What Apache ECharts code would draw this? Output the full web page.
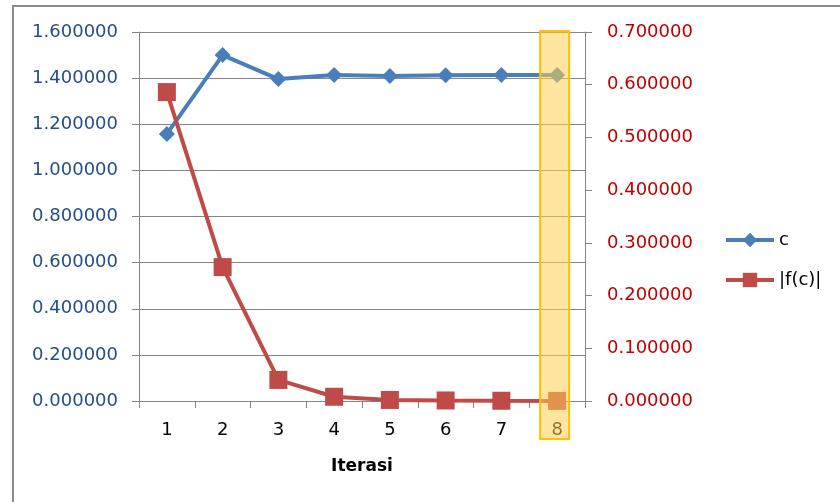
<!DOCTYPE html>
<html><head><meta charset="utf-8">
<script src="https://cdn.jsdelivr.net/npm/echarts@6/dist/echarts.min.js"></script>
<style>html,body{margin:0;padding:0;background:#fff}#c{width:840px;height:502px}</style>
</head><body><div id="c"></div>
<script>
const categories = ['1','2','3','4','5','6','7','8'];
const cValues = [1.158, 1.500, 1.396, 1.414, 1.409, 1.412, 1.414, 1.414];
const fcValues = [0.586, 0.254, 0.040, 0.008, 0.002, 0.001, 0.0005, 0.0002];
const leftTicks = {min: 0, max: 1.6, interval: 0.2};
const rightTicks = {min: 0, max: 0.7, interval: 0.1};

const chart = echarts.init(document.getElementById('c'), null, {renderer: 'canvas'});
const FONT = 'DejaVu Sans';
chart.setOption({
  animation: false,
  textStyle: {fontFamily: FONT},
  grid: {left: 139, right: 255, top: 32, bottom: 101, containLabel: false},
  legend: {
    orient: 'vertical', left: 719, top: 226, itemWidth: 48, itemHeight: 18, itemGap: 22,
    textStyle: {fontSize: 18, color: '#000', fontFamily: FONT},
    lineStyle: {width: 4},
    data: ['c', '|f(c)|']
  },
  xAxis: {
    type: 'category', data: categories, boundaryGap: true,
    name: 'Iterasi', nameLocation: 'middle', nameGap: 57,
    nameTextStyle: {fontSize: 17, fontWeight: 'bold', color: '#000', fontFamily: FONT},
    axisLine: {lineStyle: {color: '#868686', width: 1}},
    axisTick: {show: true, length: 7, lineStyle: {color: '#868686'}, alignWithLabel: false},
    axisLabel: {fontSize: 18, color: '#000', margin: 20, fontFamily: FONT},
    splitLine: {show: false}
  },
  yAxis: [{
    type: 'value', min: leftTicks.min, max: leftTicks.max, interval: leftTicks.interval,
    position: 'left',
    axisLine: {show: true, lineStyle: {color: '#868686', width: 1}},
    axisTick: {show: true, length: 7, lineStyle: {color: '#868686'}},
    axisLabel: {fontSize: 18, color: '#254E88', margin: 21, fontFamily: FONT,
      formatter: v => v.toFixed(6)},
    splitLine: {show: true, lineStyle: {color: '#868686', width: 1}}
  }, {
    type: 'value', min: rightTicks.min, max: rightTicks.max, interval: rightTicks.interval,
    position: 'right',
    axisLine: {show: true, lineStyle: {color: '#868686', width: 1}},
    axisTick: {show: true, length: 7, lineStyle: {color: '#868686'}},
    axisLabel: {fontSize: 18, color: '#C00000', margin: 22, fontFamily: FONT,
      formatter: v => v.toFixed(6)},
    splitLine: {show: false}
  }],
  series: [{
    name: 'c', type: 'line', yAxisIndex: 0, data: cValues,
    symbol: 'diamond', symbolSize: 16,
    lineStyle: {color: '#4A7EBB', width: 4},
    itemStyle: {color: '#4A7EBB'}
  }, {
    name: '|f(c)|', type: 'line', yAxisIndex: 1, data: fcValues,
    symbol: 'rect', symbolSize: 18,
    lineStyle: {color: '#BE4B48', width: 4},
    itemStyle: {color: '#BE4B48'}
  }]
});

const cx = chart.convertToPixel({xAxisIndex: 0}, categories[categories.length - 1]);
const topY = chart.convertToPixel({yAxisIndex: 0}, leftTicks.max);
chart.setOption({
  graphic: [{
    type: 'rect', z: 100, silent: true,
    shape: {x: cx - 17, y: topY - 1, width: 29, height: 408},
    style: {fill: 'rgba(255,208,80,0.55)', stroke: '#FFC000', lineWidth: 2}
  }, {
    type: 'rect', z: 0, silent: true,
    shape: {x: 13, y: 6, width: 840, height: 510},
    style: {fill: 'none', stroke: '#8c8c8c', lineWidth: 2}
  }]
});
</script></body></html>
